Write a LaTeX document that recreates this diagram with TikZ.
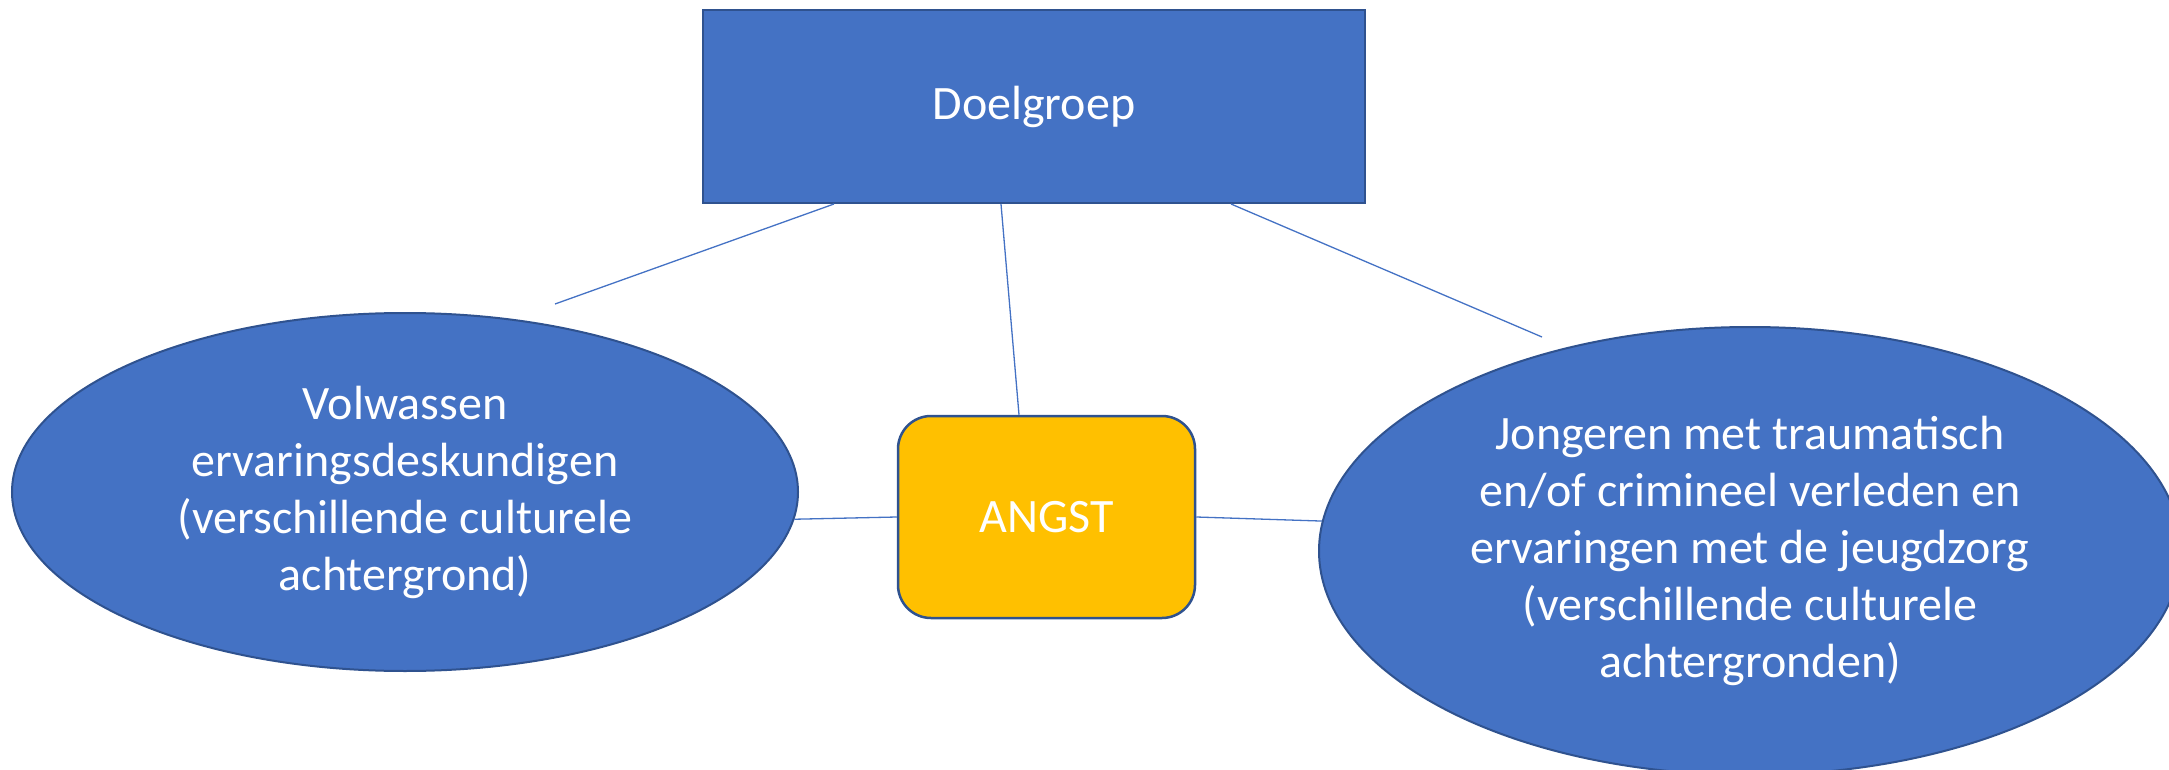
\documentclass[tikz,border=0pt]{standalone}
\usepackage{fontspec}
\setmainfont{Carlito}
\usetikzlibrary{shapes.geometric}
\definecolor{vlakblauw}{HTML}{4472C4}
\definecolor{randblauw}{HTML}{2F528F}
\definecolor{kerngeel}{HTML}{FFC000}

\begin{document}
\begin{tikzpicture}[
  x=1pt, y=-1pt,
  txt/.style={text=white, align=center, font=\fontsize{48}{57}\selectfont, inner sep=0pt},
  kader/.style={txt, draw=randblauw, line width=2pt, fill=vlakblauw, minimum width=662pt, minimum height=193pt},
  bol/.style={txt, ellipse, draw=randblauw, line width=2pt, fill=vlakblauw},
  kern/.style={txt, draw=randblauw, line width=2.5pt, fill=kerngeel, rounded corners=33pt, minimum width=297pt, minimum height=202pt},
  lijn/.style={draw=vlakblauw, line width=1.3pt}
]
\useasboundingbox (0,0) rectangle (2169,770);
\clip (0,0) rectangle (2169,770);

\node[kader] (doel) at (1034,106.5) {Doelgroep};
\node[kern] (angst) at (1046.5,517) {ANGST};
\node[bol, minimum width=786pt, minimum height=358pt] (links) at (405,492)
  {Volwassen\\ervaringsdeskundigen\\(verschillende culturele\\achtergrond)};
\node[bol, minimum width=862pt, minimum height=448pt] (rechts) at (1750,551)
  {Jongeren met traumatisch\\en/of crimineel verleden en\\ervaringen met de jeugdzorg\\(verschillende culturele\\achtergronden)};

% losse uiteinden
\coordinate (losL) at (555,304);
\coordinate (losR) at (1542,337);

\draw[lijn] ([xshift=132pt]doel.south west) -- (losL);
\draw[lijn] ([xshift=-135pt]doel.south east) -- (losR);
\draw[lijn] ([xshift=-33pt]doel.south) -- ([xshift=-27.5pt]angst.north);
\draw[lijn] (links.-4) -- (angst.west);
\draw[lijn] (angst.east) -- (rechts.176);
\end{tikzpicture}
\end{document}
